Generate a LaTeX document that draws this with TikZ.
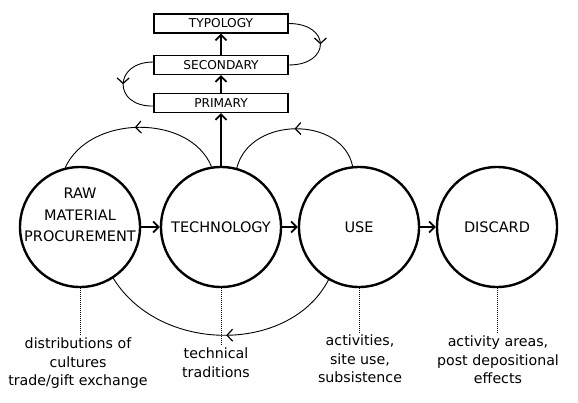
\documentclass[tikz,border=0pt]{standalone}
\usepackage{fontspec}
\setmainfont{DejaVu Sans}
\usetikzlibrary{arrows.meta,decorations.markings}
\tikzset{
  bigc/.style={circle,draw,line width=2.4pt,minimum size=120pt,inner sep=0pt,font=\fontsize{14.5}{20}\selectfont},
  box/.style={rectangle,draw,line width=1.3pt,minimum width=134pt,minimum height=19pt,inner sep=0pt,font=\fontsize{12.2}{14}\selectfont},
  lbl/.style={align=center,inner sep=2pt,font=\fontsize{14.2}{18.5}\selectfont},
  tip/.style={-{Straight Barb[length=5.5pt,width=11pt,line width=1.8pt]}},
  flow/.style={line width=2.2pt,tip},
  midarrow/.style={decoration={markings,mark=at position #1 with {\arrow{Straight Barb[length=5.5pt,width=12pt,line width=1.2pt]}}},postaction={decorate}},
  thin/.style={line width=0.9pt},
  dots/.style={line width=1pt,dash pattern=on 1pt off 1pt}
}
\begin{document}
\begin{tikzpicture}[x=1pt,y=-1pt]
\useasboundingbox (0,0) rectangle (578,402);
% circles
\node[bigc] (raw) at (80,227) {};
\node[lbl,inner sep=0pt,font=\fontsize{14.5}{21.5}\selectfont] (rawt) at (80,215) {RAW\\MATERIAL\\PROCUREMENT};
\node[bigc] (tech) at (221,227) {TECHNOLOGY};
\node[bigc] (use) at (359,227) {USE};
\node[bigc] (disc) at (497,227) {DISCARD};
% boxes
\node[box] (typ) at (221,23.5) {TYPOLOGY};
\node[box] (sec) at (221,65) {SECONDARY};
\node[box] (pri) at (221,103) {PRIMARY};
% flow arrows
\draw[flow] (raw.east) -- (tech.west);
\draw[flow] (tech.east) -- (use.west);
\draw[flow] (use.east) -- (disc.west);
\draw[flow] (tech.north) -- (pri.south);
\draw[flow] (pri.north) -- (sec.south);
\draw[flow] (sec.north) -- (typ.south);
% box loops
\draw[thin,midarrow=0.5] (typ.east) .. controls (331,23.5) and (331,65) .. (sec.east);
\draw[thin,midarrow=0.5] ([yshift=3pt]sec.west) .. controls (113,62) and (113,107) .. ([yshift=-3pt]pri.west);
% big arcs
\draw[thin,midarrow=0.52] (tech.99) .. controls (190,114) and (90,114) .. (raw.104);
\draw[thin,midarrow=0.5] (use.96) .. controls (342,116) and (250,116) .. (tech.75);
\draw[thin,midarrow=0.48] (use.240) .. controls (290,354) and (160,354) .. (raw.303);
% labels
\node[lbl,anchor=north] (rawl) at (78,336) {distributions of\\cultures\\trade/gift exchange};
\node[lbl,anchor=north] (techl) at (216,346) {technical\\traditions};
\node[lbl,anchor=north] (usel) at (360,333) {activities,\\site use,\\subsistence};
\node[lbl,anchor=north] (discl) at (498,334) {activity areas,\\post depositional\\effects};
\draw[dots] (raw.south) -- (raw.south |- rawl.north);
\draw[dots] (tech.south) -- (tech.south |- techl.north);
\draw[dots] (use.south) -- (use.south |- usel.north);
\draw[dots] (disc.south) -- (disc.south |- discl.north);
\end{tikzpicture}
\end{document}
